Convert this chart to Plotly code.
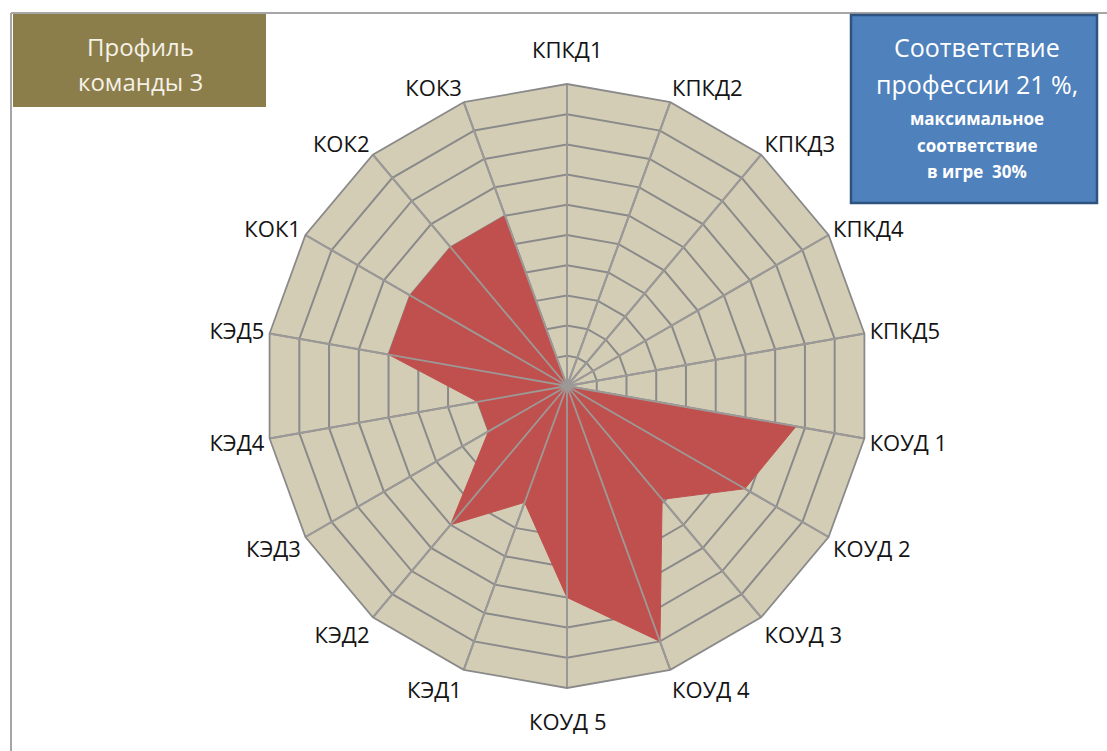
import plotly.graph_objects as go

# Competency axes of the team profile, clockwise from the top
categories = [
    "КПКД1", "КПКД2", "КПКД3", "КПКД4", "КПКД5",
    "КОУД 1", "КОУД 2", "КОУД 3", "КОУД 4", "КОУД 5",
    "КЭД1", "КЭД2", "КЭД3", "КЭД4", "КЭД5",
    "КОК1", "КОК2", "КОК3",
]
team3_scores = [0, 0, 0, 0, 0,
                7.7, 6.8, 4.9, 9.0, 7.0,
                4.1, 6.0, 3.0, 3.0, 6.0,
                6.0, 6.0, 6.0]
radial_max = 10

W, H = 1107, 751
cx, cy, R = 567, 386, 302  # chart centre and outer radius in pixels

GRID = "#8a8a8a"
SPOKE = "#9c9a98"
LABEL_FONT = dict(family="Open Sans", size=22, color="#141414")

# top and bottom labels are placed as annotations a bit further out
top_i, bottom_i = 0, len(categories) // 2
tick_text = ["" if i in (top_i, bottom_i) else c for i, c in enumerate(categories)]

fig = go.Figure()

# Team profile polygon
fig.add_trace(go.Scatterpolar(
    r=team3_scores + team3_scores[:1],
    theta=categories + categories[:1],
    mode="lines",
    fill="toself",
    fillcolor="#c0504d",
    line=dict(color="#c0504d", width=1),
    hoverinfo="skip",
    showlegend=False,
))

# Spokes drawn over the filled area
spoke_r, spoke_t = [], []
for c in categories:
    spoke_r += [0, radial_max, None]
    spoke_t += [c, c, None]
fig.add_trace(go.Scatterpolar(
    r=spoke_r, theta=spoke_t, mode="lines",
    line=dict(color=SPOKE, width=1.8),
    hoverinfo="skip", showlegend=False, connectgaps=False,
))

# Hub where the spokes meet
fig.add_trace(go.Scatterpolar(
    r=[0], theta=[categories[0]], mode="markers",
    marker=dict(color="#8a9296", size=9),
    hoverinfo="skip", showlegend=False,
))

fig.update_layout(
    width=W, height=H,
    margin=dict(l=0, r=0, t=0, b=0),
    paper_bgcolor="white",
    showlegend=False,
    polar=dict(
        domain=dict(x=[(cx - R) / W, (cx + R) / W],
                    y=[(H - cy - R) / H, (H - cy + R) / H]),
        bgcolor="#d4cdb6",
        gridshape="linear",
        radialaxis=dict(
            range=[0, radial_max], dtick=1, showticklabels=False,
            ticks="", showline=False, gridcolor=GRID, gridwidth=1.8,
        ),
        angularaxis=dict(
            type="category", categoryarray=categories,
            tickmode="array", tickvals=categories, ticktext=tick_text,
            direction="clockwise", rotation=90,
            ticks="", showline=True, linecolor=GRID, linewidth=1.8,
            gridcolor=GRID, gridwidth=1.8,
            tickfont=LABEL_FONT,
        ),
    ),
)

def px_x(x):
    return x / W

def px_y(y):
    return 1 - y / H

shapes = [
    # outer frame (top and left edges)
    dict(type="line", xref="paper", yref="paper",
         x0=px_x(11), x1=1, y0=px_y(13), y1=px_y(13),
         line=dict(color="#a6a6a6", width=2)),
    dict(type="line", xref="paper", yref="paper",
         x0=px_x(11), x1=px_x(11), y0=px_y(13), y1=0,
         line=dict(color="#a6a6a6", width=2)),
    # title box
    dict(type="rect", xref="paper", yref="paper",
         x0=px_x(13), x1=px_x(266), y0=px_y(107), y1=px_y(14),
         fillcolor="#8c7e4b", line=dict(width=0)),
    # match-score box
    dict(type="rect", xref="paper", yref="paper",
         x0=px_x(851), x1=px_x(1097), y0=px_y(203), y1=px_y(15),
         fillcolor="#4f81bd", line=dict(color="#2f5380", width=2.5)),
]

annotations = [
    dict(text=categories[top_i], x=px_x(cx), y=px_y(cy - R - 35), font=LABEL_FONT),
    dict(text=categories[bottom_i], x=px_x(cx), y=px_y(cy + R + 33), font=LABEL_FONT),
]

title_font = dict(family="Open Sans", size=24, color="#f4f1e6")
annotations += [
    dict(text="Профиль", x=px_x(140), y=px_y(46), font=title_font),
    dict(text="команды 3", x=px_x(140), y=px_y(81), font=title_font),
]

box_lines = [
    ("Соответствие", 47, 25, False),
    ("профессии 21 %,", 84, 25, False),
    ("максимальное", 119, 17, True),
    ("соответствие", 145, 17, True),
    ("в игре  30%", 171, 17, True),
]
for txt, y, size, bold in box_lines:
    annotations.append(dict(
        text=f"<b>{txt}</b>" if bold else txt,
        x=px_x(977), y=px_y(y),
        font=dict(family="Open Sans", size=size, color="white"),
    ))

for a in annotations:
    a.update(xref="paper", yref="paper", showarrow=False,
             xanchor="center", yanchor="middle")

fig.update_layout(shapes=shapes, annotations=annotations)
fig.write_html("out.html")
